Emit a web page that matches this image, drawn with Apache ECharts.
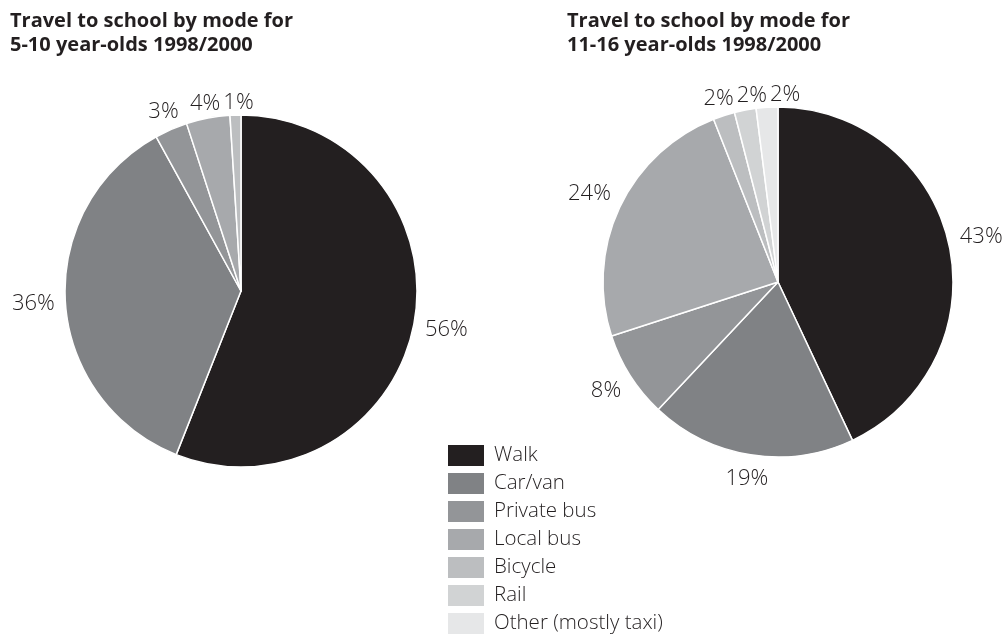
<!DOCTYPE html>
<html>
<head>
<meta charset="utf-8">
<script src="https://cdn.jsdelivr.net/npm/echarts@6/dist/echarts.min.js"></script>
<style>
  html, body { margin: 0; padding: 0; background: #ffffff; }
  #chart { width: 1002px; height: 634px; }
</style>
</head>
<body>
<div id="chart"></div>
<script>
// ---- data ----
var modes = ['Walk', 'Car/van', 'Private bus', 'Local bus', 'Bicycle', 'Rail', 'Other (mostly taxi)'];
var modeColors = ['#231f20', '#808285', '#939598', '#a7a9ac', '#bcbec0', '#d1d3d4', '#e6e7e8'];
var title1 = 'Travel to school by mode for\n5-10 year-olds 1998/2000';
var title2 = 'Travel to school by mode for\n11-16 year-olds 1998/2000';
var young = [56, 36, 3, 4, 1];            // 5-10 year-olds, %
var older = [43, 19, 8, 24, 2, 2, 2];     // 11-16 year-olds, %

var FONT = '"Open Sans", "DejaVu Sans", sans-serif';
var INK = '#231f20';

function toData(vals) {
  return vals.map(function (v, i) {
    return { name: modes[i], value: v, itemStyle: { color: modeColors[i] } };
  });
}

// place each percentage just outside its slice, centred on the slice's mid-angle,
// nudging a label rightwards if it would collide with the previous one of the same pie
var lastBox = {};
function placeLabel(p) {
  var pts = p.labelLinePoints;
  if (!pts || pts.length < 2) return {};
  var dx = pts[1][0] - pts[0][0];
  var dy = pts[1][1] - pts[0][1];
  var len = Math.sqrt(dx * dx + dy * dy) || 1;
  dx /= len; dy /= len;
  var w = p.labelRect.width, h = p.labelRect.height;
  var ext = Math.abs(dx) * w / 2 + Math.abs(dy) * h / 2;
  var up = Math.max(0, -dy);
  var gap = 10 - 9 * up * up * up;
  var d = gap + ext;
  var x = pts[0][0] + dx * d;
  var y = pts[0][1] + dy * d;
  var prev = lastBox[p.seriesIndex];
  if (prev && p.dataIndex > prev.idx && Math.abs(prev.y - y) < h) {
    var minX = prev.x + prev.w / 2 + 3 + w / 2;
    if (x < minX) x = minX;
  }
  lastBox[p.seriesIndex] = { idx: p.dataIndex, x: x, y: y, w: w };
  return { x: x, y: y, align: 'center', verticalAlign: 'middle' };
}

function pieSeries(vals, center, radius) {
  return {
    type: 'pie',
    center: center,
    radius: radius,
    startAngle: 90,
    clockwise: true,
    avoidLabelOverlap: false,
    animation: false,
    itemStyle: { borderColor: '#ffffff', borderWidth: 1.5 },
    label: {
      show: true,
      position: 'outside',
      formatter: '{c}%',
      color: INK,
      fontFamily: FONT,
      fontWeight: 300,
      fontSize: 22
    },
    labelLine: { show: true, length: 10, length2: 0, lineStyle: { opacity: 0 } },
    labelLayout: placeLabel,
    emphasis: { disabled: true },
    data: toData(vals)
  };
}

var titleStyle = { fontFamily: FONT, fontWeight: 'bold', fontSize: 20, color: INK, lineHeight: 24 };

var chart = echarts.init(document.getElementById('chart'), null, { renderer: 'canvas' });
chart.setOption({
  backgroundColor: '#ffffff',
  animation: false,
  title: [
    { text: title1, left: 10, top: 9, padding: 0, textStyle: titleStyle },
    { text: title2, left: 567, top: 9, padding: 0, textStyle: titleStyle }
  ],
  legend: {
    orient: 'vertical',
    left: 446,
    top: 443,
    height: 200,
    padding: 0,
    itemWidth: 38,
    itemHeight: 23,
    itemGap: 3,
    icon: 'rect',
    selectedMode: false,
    data: modes,
    textStyle: { fontFamily: FONT, fontWeight: 300, fontSize: 20.5, lineHeight: 23, color: INK, padding: [0, 0, 0, 4] }
  },
  series: [
    pieSeries(young, [241, 291], 176),
    pieSeries(older, [778, 282], 175)
  ]
});
</script>
</body>
</html>
